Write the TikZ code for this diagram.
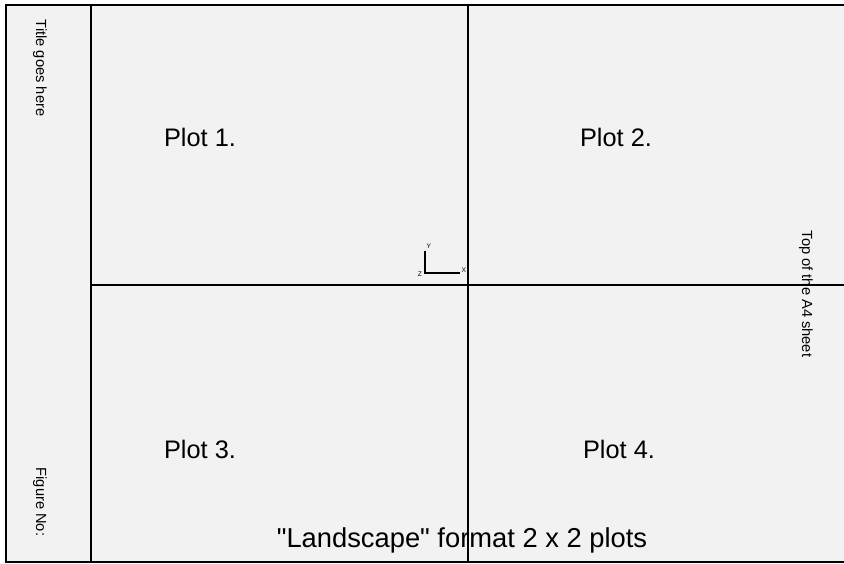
\documentclass[tikz,border=0pt]{standalone}
\usepackage{fontspec}
\setmainfont{Liberation Sans}[Ligatures=TeXOff]
\usetikzlibrary{positioning}

\begin{document}
\begin{tikzpicture}[x=0.75pt, y=-0.75pt,
    every node/.style={inner sep=0pt, font=\fontsize{19}{22}\selectfont},
    side/.style={rotate=-90, font=\fontsize{11}{13}\selectfont},
    axislabel/.style={font=\fontsize{5}{6}\selectfont}]
    \useasboundingbox (0,0) rectangle (844,564);
    \fill[black!5] (6,5) rectangle (846,562);
    % sheet frame and plot grid
    \draw[line width=1.5pt] (846,5) -- (6,5) -- (6,562) -- (846,562);
    \draw[line width=1.1pt] (91,5) -- (91,562);
    \draw[line width=1.1pt] (468,5) -- (468,562);
    \draw[line width=1.1pt] (91,285) -- (846,285);
    \node (plot1) at (200,137) {Plot 1.};
    \node (plot2) at (616,137) {Plot 2.};
    \node (plot3) at (200,449) {Plot 3.};
    \node (plot4) at (619,449) {Plot 4.};
    \node[font=\fontsize{20.5}{24}\selectfont] (format) at (462,540)
        {"Landscape" format 2 x 2 plots};
    \node[side] (title) at (40,68) {Title goes here};
    \node[side] (figno) at (40,502) {Figure No:};
    \node[side] (sheettop) at (806,294) {Top of the A4 sheet};
    % axis triad
    \coordinate (origin) at (425,273);
    \coordinate (yend) at (425,251);
    \coordinate (xend) at (460,273);
    \draw[line width=0.8pt] (yend) -- (origin) -- (xend);
    \node[axislabel, above right=2pt and 1pt of yend] (ylab) {Y};
    \node[axislabel, right=1pt of xend, yshift=2pt] (xlab) {X};
    \node[axislabel, left=2pt of origin, yshift=-1pt] (zlab) {Z};
\end{tikzpicture}
\end{document}
